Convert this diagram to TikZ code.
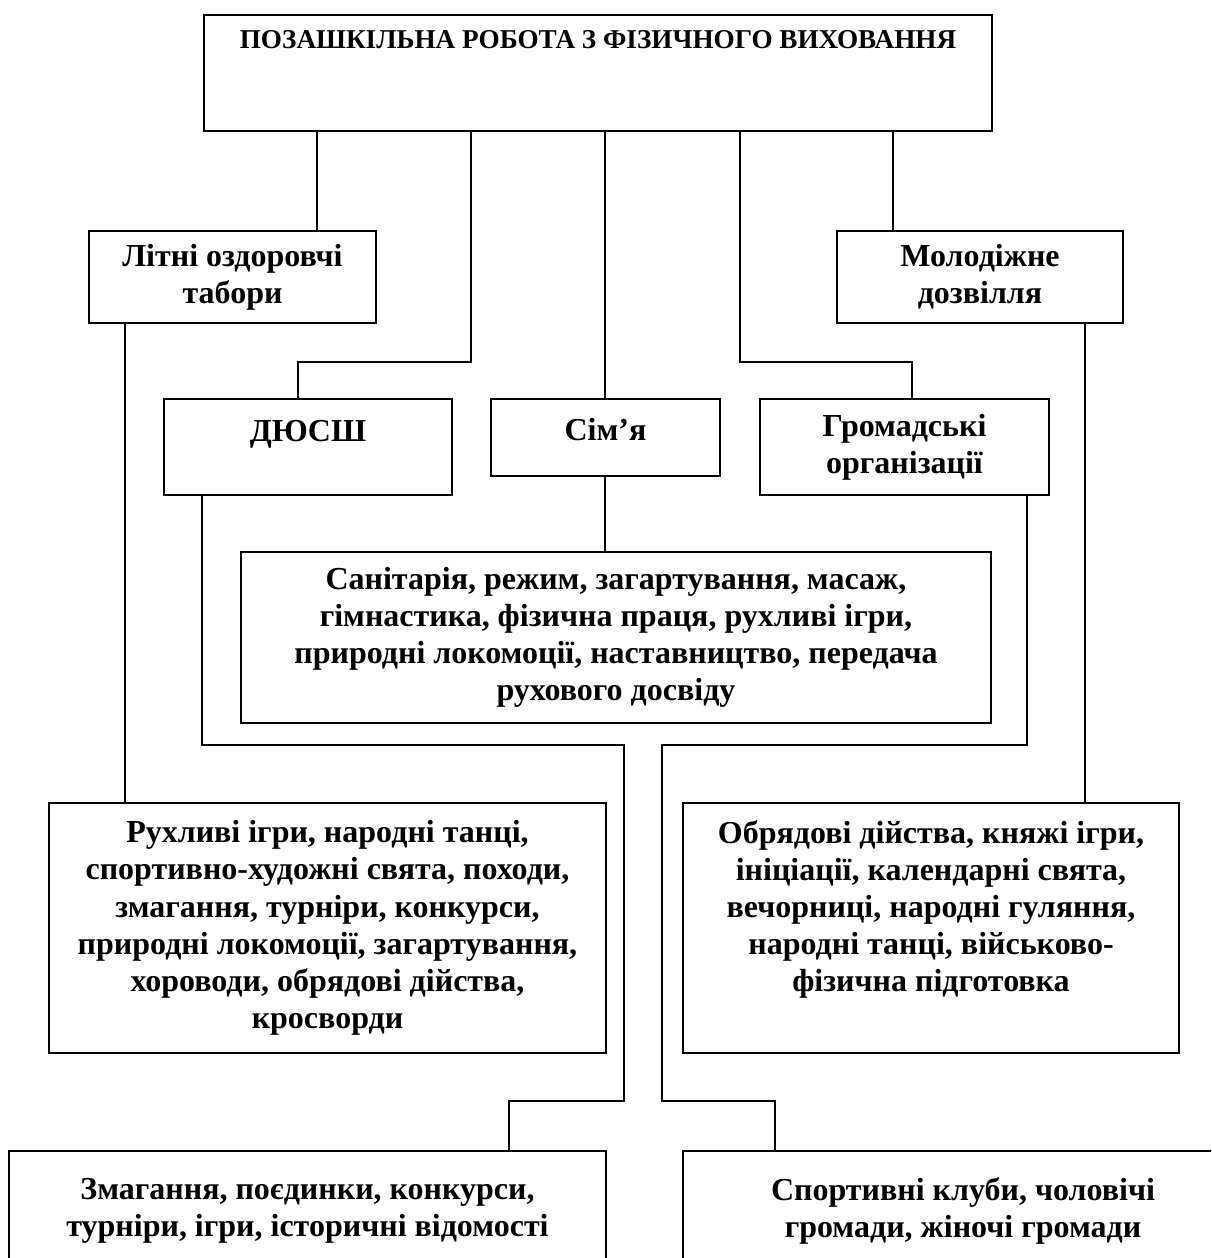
\documentclass[tikz,border=0pt]{standalone}
\usepackage{fontspec}
\setmainfont{Liberation Serif}
% zero-width rule that lifts the text inside a box
\newcommand{\lift}[1]{\rule[-#1pt]{0pt}{#1pt}}
\tikzset{
  box/.style={draw, line width=1pt, align=center, anchor=north west, inner sep=0pt,
    font=\bfseries\fontsize{16}{18.6}\selectfont},
  boxsize/.style 2 args={minimum width=#1*0.5pt, minimum height=#2*0.5pt},
  link/.style={line width=0.8pt}
}
\begin{document}
\begin{tikzpicture}[x=0.5pt,y=-0.5pt]

\useasboundingbox (0,0) rectangle (1211,1258);
\clip (0,0) rectangle (1211,1258);

% Top
\node [box, boxsize={788}{116}, font=\bfseries\fontsize{13.6}{16}\selectfont] (top) at ( 203, 14 )
  {ПОЗАШКІЛЬНА РОБОТА З ФІЗИЧНОГО ВИХОВАННЯ\lift{34}};

% Second row
\node [box, boxsize={287}{92}] (lit) at ( 88, 230 ) {Літні оздоровчі\\табори};
\node [box, boxsize={286}{92}] (molod) at ( 836, 230 ) {Молодіжне\\дозвілля};

% Third row
\node [box, boxsize={288}{96}] (dyussh) at ( 163, 398 ) {ДЮСШ\lift{16}};
\node [box, boxsize={229}{77}] (sim) at ( 490, 398 ) {Сім’я\lift{8}};
\node [box, boxsize={289}{96}] (gromad) at ( 759, 398 ) {Громадські\\організації};

% Family
\node [box, boxsize={750}{171}] (sanit) at ( 240, 551 )
  {Санітарія, режим, загартування, масаж,\\гімнастика, фізична праця, рухливі ігри,\\природні локомоції, наставництво, передача\\рухового досвіду};

% Fourth row
\node [box, boxsize={557}{250}] (rukh) at ( 48, 802 )
  {Рухливі ігри, народні танці,\\спортивно-художні свята, походи,\\змагання, турніри, конкурси,\\природні локомоції, загартування,\\хороводи, обрядові дійства,\\кросворди};
\node [box, boxsize={496}{250}] (obr) at ( 682, 802 )
  {Обрядові дійства, княжі ігри,\\ініціації, календарні свята,\\вечорниці, народні гуляння,\\народні танці, військово-\\фізична підготовка\lift{22}};

% Bottom row
\node [box, boxsize={597}{153}] (zmag) at ( 8, 1150 )
  {Змагання, поєдинки, конкурси,\\турніри, ігри, історичні відомості\lift{20}};
\node [box, boxsize={560}{153}] (sport) at ( 682, 1150 )
  {Спортивні клуби, чоловічі\\громади, жіночі громади\lift{20}};

% Links
\draw [link] (top.south -| 317,0) -- (lit.north -| 317,0);
\draw [link] (top.south -| 471,0) -- ++(0,230) -| (dyussh.north -| 298,0);
\draw [link] (top.south -| 605,0) -- (sim.north -| 605,0);
\draw [link] (top.south -| 740,0) -- ++(0,230) -| (gromad.north -| 912,0);
\draw [link] (top.south -| 893,0) -- (molod.north -| 893,0);
\draw [link] (sim.south -| 605,0) -- (sanit.north -| 605,0);
\draw [link] (lit.south -| 125,0) -- (rukh.north -| 125,0);
\draw [link] (molod.south -| 1085,0) -- (obr.north -| 1085,0);
\draw [link] (dyussh.south -| 202,0) -- ++(0,249) -| (624,1101) -| (zmag.north -| 509,0);
\draw [link] (gromad.south -| 1027,0) -- ++(0,249) -| (662,1101) -| (sport.north -| 775,0);

\end{tikzpicture}
\end{document}
